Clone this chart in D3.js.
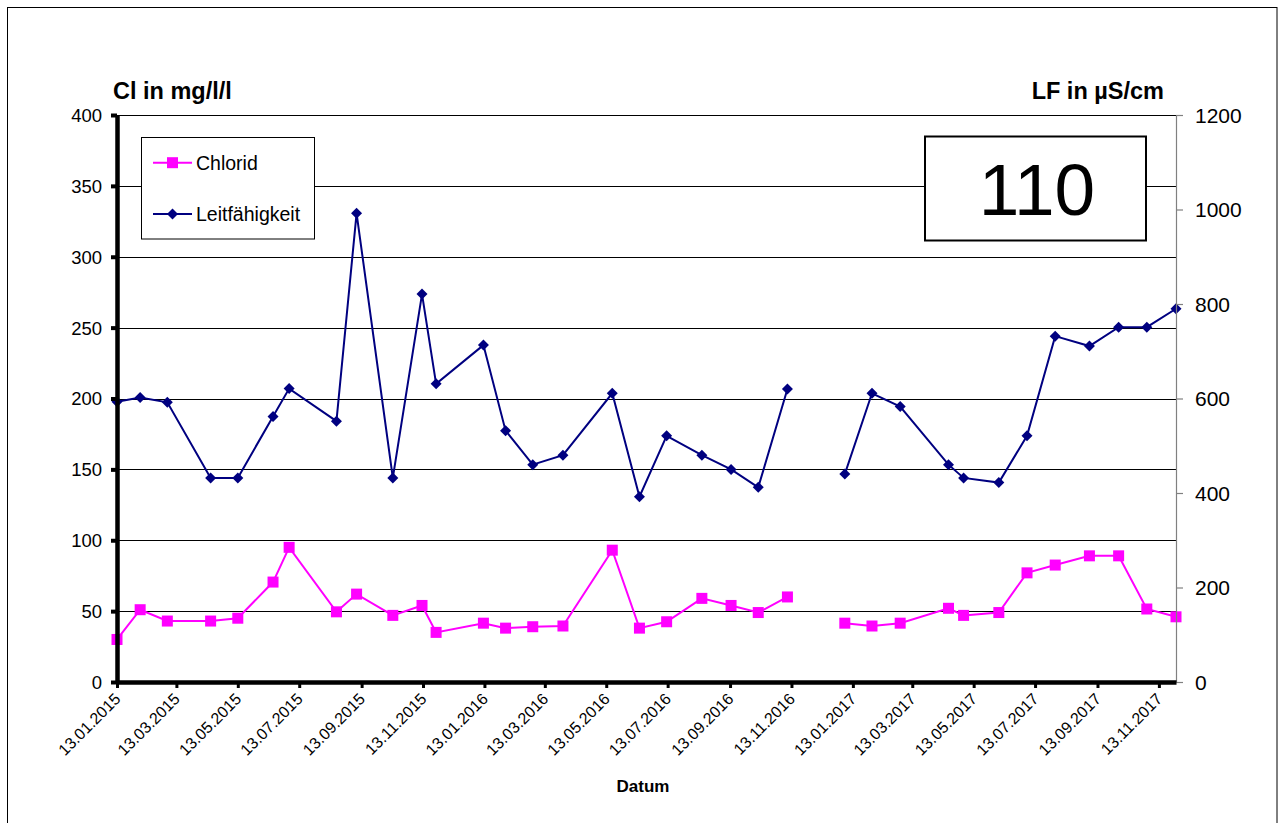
<!DOCTYPE html>
<html>
<head>
<meta charset="utf-8">
<script src="https://cdn.jsdelivr.net/npm/d3@7"></script>
<style>
  html, body { margin: 0; padding: 0; background: #fff; }
  svg { display: block; font-family: "Liberation Sans", Arial, sans-serif; }
</style>
</head>
<body>
<svg id="chart" width="1282" height="823"></svg>
<script>
// ---- data ----
const dates = ["2015-01-13","2015-02-05","2015-03-04","2015-04-16","2015-05-13","2015-06-17","2015-07-03",
  "2015-08-19","2015-09-08","2015-10-14","2015-11-12","2015-11-26","2016-01-12","2016-02-03","2016-03-01",
  "2016-03-31","2016-05-19","2016-06-15","2016-07-12","2016-08-16","2016-09-14","2016-10-11","2016-11-09",
  "2016-12-07","2017-01-05","2017-02-01","2017-03-01","2017-04-18","2017-05-03","2017-06-07","2017-07-05",
  "2017-08-02","2017-09-05","2017-10-04","2017-11-01","2017-11-30"];
const chlorid = [30,51,43,43,45,70.5,95,49.5,62,47,54,35,41.5,38,39,39.5,93,38,42.5,59,54,49,60,
  null,41.5,39.5,41.5,52,47,49,77,82.5,89,89,51.5,46];
const leitfaehigkeit = [593,602,592,432,432,562,621,552,992,432,821,631,713,532,460,480,611,392,521,480,450,412,620,
  null,440,611,583,460,432,422,521,732,711,751,751,790];
const xTickLabels = ["13.01.2015","13.03.2015","13.05.2015","13.07.2015","13.09.2015","13.11.2015",
  "13.01.2016","13.03.2016","13.05.2016","13.07.2016","13.09.2016","13.11.2016",
  "13.01.2017","13.03.2017","13.05.2017","13.07.2017","13.09.2017","13.11.2017"];
const leftTicks = [0,50,100,150,200,250,300,350,400];
const rightTicks = [0,200,400,600,800,1000,1200];
const xDomain = ["2015-01-13","2017-11-30"];
const seriesNames = ["Chlorid","Leitfähigkeit"];
const boxLabel = "110";

// ---- layout ----
const svg = d3.select("#chart");
const L = 117, R = 1176, T = 115, B = 682;
const parseISO = d3.utcParse("%Y-%m-%d");
const parseDE = d3.utcParse("%d.%m.%Y");
const fmtDE = d3.utcFormat("%d.%m.%Y");
const x = d3.scaleUtc().domain(xDomain.map(parseISO)).range([L, R]);
const yL = d3.scaleLinear().domain([0, 400]).range([B, T]);
const yR = d3.scaleLinear().domain([0, 1200]).range([B, T]);
const rows = dates.map((d, i) => ({ date: parseISO(d), cl: chlorid[i], lf: leitfaehigkeit[i] }));
const MAG = "#ff00ff", NAVY = "#000080";
const font = '"Liberation Sans", Arial, sans-serif';

svg.append("rect").attr("width", 1282).attr("height", 823).attr("fill", "#fff");
// outer frame
svg.append("rect").attr("x", 7.5).attr("y", 7.5).attr("width", 1269.5).attr("height", 830)
  .attr("fill", "none").attr("stroke", "#000").attr("stroke-width", 1);

// gridlines
svg.append("g").selectAll("line").data(leftTicks.filter(v => v > 0)).join("line")
  .attr("x1", L).attr("x2", v => v === 400 ? R + 7 : R)
  .attr("y1", v => Math.round(yL(v)) + 0.5).attr("y2", v => Math.round(yL(v)) + 0.5)
  .attr("stroke", "#000").attr("stroke-width", 1);

// series
const lineCl = d3.line().defined(d => d.cl != null).x(d => x(d.date)).y(d => yL(d.cl));
const lineLf = d3.line().defined(d => d.lf != null).x(d => x(d.date)).y(d => yR(d.lf));
svg.append("path").datum(rows).attr("d", lineLf).attr("fill", "none").attr("stroke", NAVY).attr("stroke-width", 2);
svg.append("path").datum(rows).attr("d", lineCl).attr("fill", "none").attr("stroke", MAG).attr("stroke-width", 2);

const diamond = (cx, cy, r) => `M${cx},${cy - r}L${cx + r},${cy}L${cx},${cy + r}L${cx - r},${cy}Z`;
svg.append("g").selectAll("path").data(rows.filter(d => d.lf != null)).join("path")
  .attr("d", d => diamond(x(d.date), yR(d.lf), 5.5)).attr("fill", NAVY);
svg.append("g").selectAll("rect").data(rows.filter(d => d.cl != null)).join("rect")
  .attr("x", d => x(d.date) - 5.5).attr("y", d => yL(d.cl) - 5.5)
  .attr("width", 11).attr("height", 11).attr("fill", MAG);

// right axis
const gR = svg.append("g").attr("transform", `translate(${R},0)`)
  .call(d3.axisRight(yR).tickValues(rightTicks).tickFormat(d3.format("d")).tickSize(7).tickPadding(12).tickSizeOuter(0));
gR.select(".domain").attr("stroke", "#808080").attr("stroke-width", 1.2);
gR.selectAll(".tick line").attr("stroke", "#808080").attr("stroke-width", 1.2);
gR.selectAll("text").attr("font-family", font).attr("font-size", 21).attr("fill", "#000").attr("dy", "0.35em");

// left axis
const gL = svg.append("g").attr("transform", `translate(${L},0)`)
  .call(d3.axisLeft(yL).tickValues(leftTicks).tickSize(6).tickPadding(9).tickSizeOuter(0));
gL.select(".domain").attr("stroke", "#000").attr("stroke-width", 4.5);
gL.selectAll(".tick line").attr("stroke", "#000").attr("stroke-width", 4);
gL.selectAll("text").attr("font-family", font).attr("font-size", 18.5).attr("fill", "#000").attr("dy", "0.35em");

// bottom axis
const gB = svg.append("g").attr("transform", `translate(0,${B})`)
  .call(d3.axisBottom(x).tickValues(xTickLabels.map(parseDE)).tickFormat(fmtDE).tickSize(6).tickSizeOuter(0));
gB.select(".domain").attr("stroke", "#000").attr("stroke-width", 4.5);
gB.selectAll(".tick line").attr("stroke", "#000").attr("stroke-width", 3);
gB.selectAll("text").attr("font-family", font).attr("font-size", 16).attr("fill", "#000")
  .attr("x", 0).attr("y", 0).attr("dy", 0).attr("text-anchor", "end")
  .attr("transform", "translate(4,18) rotate(-45)");

// axis titles
svg.append("text").attr("x", 113).attr("y", 99).attr("font-family", font).attr("font-weight", "bold")
  .attr("font-size", 23.5).text("Cl in mg/l/l");
svg.append("text").attr("x", 1164).attr("y", 99).attr("text-anchor", "end").attr("font-family", font)
  .attr("font-weight", "bold").attr("font-size", 23.5).text("LF in µS/cm");
svg.append("text").attr("x", 643).attr("y", 792).attr("text-anchor", "middle").attr("font-family", font)
  .attr("font-weight", "bold").attr("font-size", 17).text("Datum");

// legend
const lg = svg.append("g");
lg.append("rect").attr("x", 141.5).attr("y", 137.5).attr("width", 173).attr("height", 101.5)
  .attr("fill", "#fff").attr("stroke", "#000").attr("stroke-width", 1);
const legY = [162.7, 214];
[MAG, NAVY].forEach((c, i) => {
  lg.append("line").attr("x1", 153).attr("x2", 192).attr("y1", legY[i]).attr("y2", legY[i])
    .attr("stroke", c).attr("stroke-width", 2);
  if (i === 0) lg.append("rect").attr("x", 172.5 - 5.5).attr("y", legY[i] - 5.5).attr("width", 11).attr("height", 11).attr("fill", c);
  else lg.append("path").attr("d", diamond(172.5, legY[i], 5.5)).attr("fill", c);
  lg.append("text").attr("x", 196).attr("y", legY[i]).attr("dy", "0.36em").attr("font-family", font)
    .attr("font-size", 19.5).text(seriesNames[i]);
});

// number box
svg.append("rect").attr("x", 925).attr("y", 136.5).attr("width", 221).attr("height", 104)
  .attr("fill", "#fff").attr("stroke", "#000").attr("stroke-width", 2);
svg.append("text").attr("x", 1037).attr("y", 215).attr("text-anchor", "middle").attr("font-family", font)
  .attr("font-size", 73).text(boxLabel);
</script>
</body>
</html>
